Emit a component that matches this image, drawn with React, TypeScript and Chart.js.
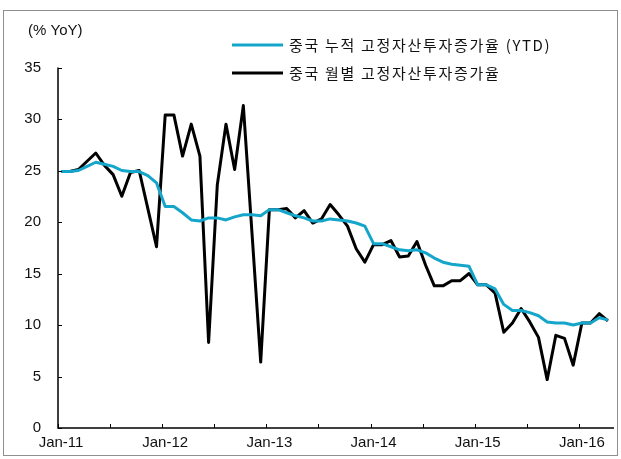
import React, { useEffect, useRef } from 'react';
import { Chart, registerables } from 'chart.js';

Chart.register(...registerables);

const yearLabels = ['Jan-11', 'Jan-12', 'Jan-13', 'Jan-14', 'Jan-15', 'Jan-16'];
const yTicks = [0, 5, 10, 15, 20, 25, 30, 35];
const unitLabel = '(% YoY)';
const ytdLabel = '중국 누적 고정자산투자증가율 (YTD)';
const monthlyLabel = '중국 월별 고정자산투자증가율';

// YTD cumulative growth, Jan-11 .. Apr-16
const ytd2011 = [24.9, 24.9, 25.0, 25.4, 25.8, 25.6, 25.4, 25.0, 24.9, 24.9, 24.5, 23.8];
const ytd2012 = [21.5, 21.5, 20.9, 20.2, 20.1, 20.4, 20.4, 20.2, 20.5, 20.7, 20.7, 20.6];
const ytd2013 = [21.2, 21.2, 20.9, 20.6, 20.4, 20.1, 20.1, 20.3, 20.2, 20.1, 19.9, 19.6];
const ytd2014 = [17.9, 17.9, 17.6, 17.3, 17.2, 17.3, 17.0, 16.5, 16.1, 15.9, 15.8, 15.7];
const ytd2015 = [13.9, 13.9, 13.5, 12.0, 11.4, 11.4, 11.2, 10.9, 10.3, 10.2, 10.2, 10.0];
const ytd2016 = [10.2, 10.2, 10.7, 10.5];

// Monthly growth, Jan-11 .. Apr-16
const mon2011 = [24.9, 24.9, 25.1, 25.9, 26.7, 25.5, 24.6, 22.5, 24.8, 25.0, 21.3, 17.6];
const mon2012 = [30.4, 30.4, 26.4, 29.5, 26.4, 8.3, 23.6, 29.5, 25.1, 31.3, 18.9, 6.4];
const mon2013 = [21.2, 21.2, 21.3, 20.4, 21.1, 19.9, 20.3, 21.7, 20.7, 19.6, 17.4, 16.1];
const mon2014 = [17.8, 17.8, 18.2, 16.6, 16.7, 18.1, 15.8, 13.8, 13.8, 14.3, 14.3, 15.0];
const mon2015 = [13.9, 13.9, 13.1, 9.3, 10.2, 11.6, 10.3, 8.8, 4.7, 9.0, 8.7, 6.1];
const mon2016 = [10.2, 10.2, 11.1, 10.4];

const ytdValues = [...ytd2011, ...ytd2012, ...ytd2013, ...ytd2014, ...ytd2015, ...ytd2016];
const monthlyValues = [...mon2011, ...mon2012, ...mon2013, ...mon2014, ...mon2015, ...mon2016];

const X_MIN = -0.35;
const X_MAX = 63.7;
const LATIN = '"Liberation Sans", Arial, sans-serif';
const KOREAN = '"Noto Sans CJK KR", "Noto Sans", sans-serif';
const CYAN = '#14a5cb';

const decorPlugin = {
  id: 'decor',
  afterDraw(chart: any) {
    const { ctx, chartArea: a, scales } = chart;
    const x = scales.x;
    const y = scales.y;
    ctx.save();
    // outer frame
    ctx.strokeStyle = '#8f8f8f';
    ctx.lineWidth = 1;
    ctx.strokeRect(3.5, 10.5, 614, 445);

    // axes lines
    ctx.strokeStyle = '#000';
    ctx.lineWidth = 1.5;
    ctx.beginPath();
    ctx.moveTo(a.left, y.getPixelForValue(35));
    ctx.lineTo(a.left, a.bottom);
    ctx.lineTo(a.right, a.bottom);
    ctx.stroke();

    // inward tick marks
    ctx.lineWidth = 1;
    ctx.beginPath();
    yTicks.forEach((v) => {
      const py = Math.round(y.getPixelForValue(v)) + 0.5;
      ctx.moveTo(a.left, py);
      ctx.lineTo(a.left + 4, py);
    });
    for (let m = 0; X_MIN + m <= X_MAX; m += 6) {
      const px = Math.round(x.getPixelForValue(X_MIN + m)) + 0.5;
      ctx.moveTo(px, a.bottom);
      ctx.lineTo(px, a.bottom - 4);
    }
    ctx.stroke();

    // unit label
    ctx.fillStyle = '#111';
    ctx.font = '15px ' + LATIN;
    ctx.textBaseline = 'middle';
    ctx.textAlign = 'left';
    ctx.fillText(unitLabel, 28, 31);

    // legend
    const ds = chart.data.datasets;
    const rows = [45, 73];
    ds.forEach((d: any, i: number) => {
      const ly = rows[i];
      ctx.strokeStyle = d.borderColor;
      ctx.lineWidth = 3;
      ctx.beginPath();
      ctx.moveTo(232, ly);
      ctx.lineTo(283, ly);
      ctx.stroke();
      ctx.fillStyle = '#111';
      ctx.font = '15px ' + KOREAN;
      (ctx as any).letterSpacing = '1.7px';
      ctx.fillText(d.label, 289, ly);
      (ctx as any).letterSpacing = '0px';
    });
    ctx.restore();
  },
};

export default function App() {
  const ref = useRef<HTMLCanvasElement>(null);
  useEffect(() => {
    if (!ref.current) return;
    const chart = new Chart(ref.current, {
      type: 'line',
      data: {
        datasets: [
          {
            label: ytdLabel,
            data: ytdValues.map((v, i) => ({ x: i, y: v })),
            borderColor: CYAN,
            backgroundColor: CYAN,
            borderWidth: 3,
            borderJoinStyle: 'round',
            pointRadius: 0,
            tension: 0,
          },
          {
            label: monthlyLabel,
            data: monthlyValues.map((v, i) => ({ x: i, y: v })),
            borderColor: '#000000',
            backgroundColor: '#000000',
            borderWidth: 3,
            borderJoinStyle: 'round',
            pointRadius: 0,
            tension: 0,
          },
        ],
      },
      options: {
        animation: false,
        responsive: false,
        devicePixelRatio: 1,
        layout: { padding: { left: 0, right: 7, top: 67.5, bottom: 0 } },
        plugins: { legend: { display: false }, tooltip: { enabled: false } },
        scales: {
          x: {
            type: 'linear',
            min: X_MIN,
            max: X_MAX,
            grid: { display: false, drawTicks: false },
            border: { display: false },
            afterBuildTicks: (s: any) => {
              s.ticks = yearLabels.map((_, k) => ({ value: k * 12 }));
            },
            afterFit: (s: any) => {
              s.height = 31;
            },
            ticks: {
              autoSkip: false,
              maxRotation: 0,
              padding: 6,
              color: '#111',
              font: { family: LATIN, size: 15 },
              callback: (v: any) => yearLabels[Math.round(Number(v) / 12)] ?? '',
            },
          },
          y: {
            min: 0,
            max: 35,
            grid: { display: false, drawTicks: false },
            border: { display: false },
            afterBuildTicks: (s: any) => {
              s.ticks = yTicks.map((v) => ({ value: v }));
            },
            afterFit: (s: any) => {
              s.width = 58;
            },
            ticks: {
              padding: 17,
              color: '#111',
              font: { family: LATIN, size: 15 },
            },
          },
        },
      },
      plugins: [decorPlugin],
    } as any);
    return () => chart.destroy();
  }, []);
  return (
    <div style={{ position: 'fixed', left: 0, top: 0, width: 621, height: 459, background: '#fff' }}>
      <canvas ref={ref} width={621} height={459} style={{ display: 'block' }} />
    </div>
  );
}
